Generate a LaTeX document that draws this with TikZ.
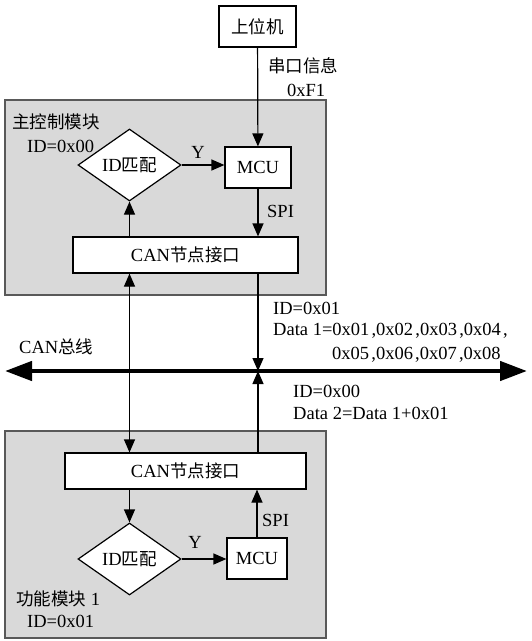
\documentclass[tikz,border=0pt]{standalone}
\usepackage{fontspec}
\setmainfont{Liberation Serif}
\newfontfamily\cjk{Noto Sans CJK SC}
\newcommand{\zh}[1]{{\cjk\fontsize{17.5}{20}\selectfont #1}}
\newcommand{\cm}{\hspace{2.2pt},}
\usetikzlibrary{shapes.geometric,arrows.meta}
\begin{document}
\begin{tikzpicture}[x=1pt,y=-1pt,
  font=\fontsize{18.5}{21}\selectfont,
  box/.style={draw=black,line width=1.2pt,fill=white,inner sep=0pt},
  dia/.style={diamond,draw=black,line width=1.2pt,fill=white,inner sep=0pt,minimum width=103pt,minimum height=72pt},
  module/.style={draw=black!65,line width=1.3pt,fill=black!15,inner sep=0pt},
  lbl/.style={inner sep=0pt,anchor=west},
  arr/.style={line width=1.2pt,-{Triangle[length=13pt,width=11pt]}},
  darr/.style={line width=1.2pt,{Triangle[length=13pt,width=11pt]}-{Triangle[length=13pt,width=11pt]}},
  bus/.style={line width=4.5pt,{Triangle[length=27pt,width=19pt]}-{Triangle[length=27pt,width=19pt]}}]
\useasboundingbox (0,0) rectangle (532,641);
\fill[white] (0,0) rectangle (532,641);
% modules
\node[module,minimum width=321pt,minimum height=195pt] (m1) at (165.5,197.5) {};
\node[module,minimum width=321pt,minimum height=207pt] (m2) at (165.5,534.5) {};
% top
\node[box,minimum width=77pt,minimum height=41pt] (pc) at (257.5,26.5) {\zh{上位机}};
\node[dia] (d1) at (129.5,165) {ID\zh{匹配}};
\node[box,minimum width=66pt,minimum height=41pt] (mcu1) at (258,167.5) {MCU};
\node[box,minimum width=225pt,minimum height=36pt] (can1) at (185.5,255) {CAN\zh{节点接口}};
% bottom
\node[box,minimum width=241pt,minimum height=36pt] (can2) at (185.5,471) {CAN\zh{节点接口}};
\node[dia] (d2) at (129.5,559) {ID\zh{匹配}};
\node[box,minimum width=60pt,minimum height=41pt] (mcu2) at (257,558.5) {MCU};
% bus
\coordinate (bl) at (5,371);
\coordinate (br) at (527,371);
\coordinate (bx) at (258,371);
\draw[bus] (bl) -- (br);
% labels
\node[lbl] (t1) at (268,66) {\zh{串口信息}};
\node[lbl] (t2) at (287,90) {0xF1};
\node[lbl] (t3) at (12,122) {\zh{主控制模块}};
\node[lbl] (t4) at (27,146) {ID=0x00};
\node (y1) at (198,152) {Y};
\node[lbl] (s1) at (267,211) {SPI};
\node[lbl] (t5) at (273,308) {ID=0x01};
\node[lbl] (t6) at (273,331) {Data 1=0x01\cm0x02\cm0x03\cm0x04\cm};
\node[lbl] (t7) at (332,355) {0x05\cm0x06\cm0x07\cm0x08};
\node[lbl] (t8) at (19,347) {CAN\zh{总线}};
\node[lbl] (t9) at (293,391) {ID=0x00};
\node[lbl] (t10) at (293,413) {Data 2=Data 1+0x01};
\node (y2) at (195,542) {Y};
\node[lbl] (s2) at (262,520) {SPI};
\node[lbl] (t11) at (16,599) {\zh{功能模块} 1};
\node[lbl] (t12) at (27,621) {ID=0x01};
% connectors
\draw[arr] (pc) -- (mcu1);
\draw[arr] (d1.east) -- (mcu1.west |- d1.east);
\draw[arr] (mcu1) -- (mcu1 |- can1.north);
\draw[arr] (can1.north -| d1) -- (d1.south);
\draw[darr] (can2.north -| d1) -- (can1.south -| d1);
\draw[arr] (can1.south -| bx) -- (bx);
\draw[arr] (can2.north -| bx) -- (bx);
\draw[arr] (can2.south -| d2) -- (d2.north);
\draw[arr] (d2.east) -- (mcu2.west |- d2.east);
\draw[arr] (mcu2) -- (mcu2 |- can2.south);
\end{tikzpicture}
\end{document}
